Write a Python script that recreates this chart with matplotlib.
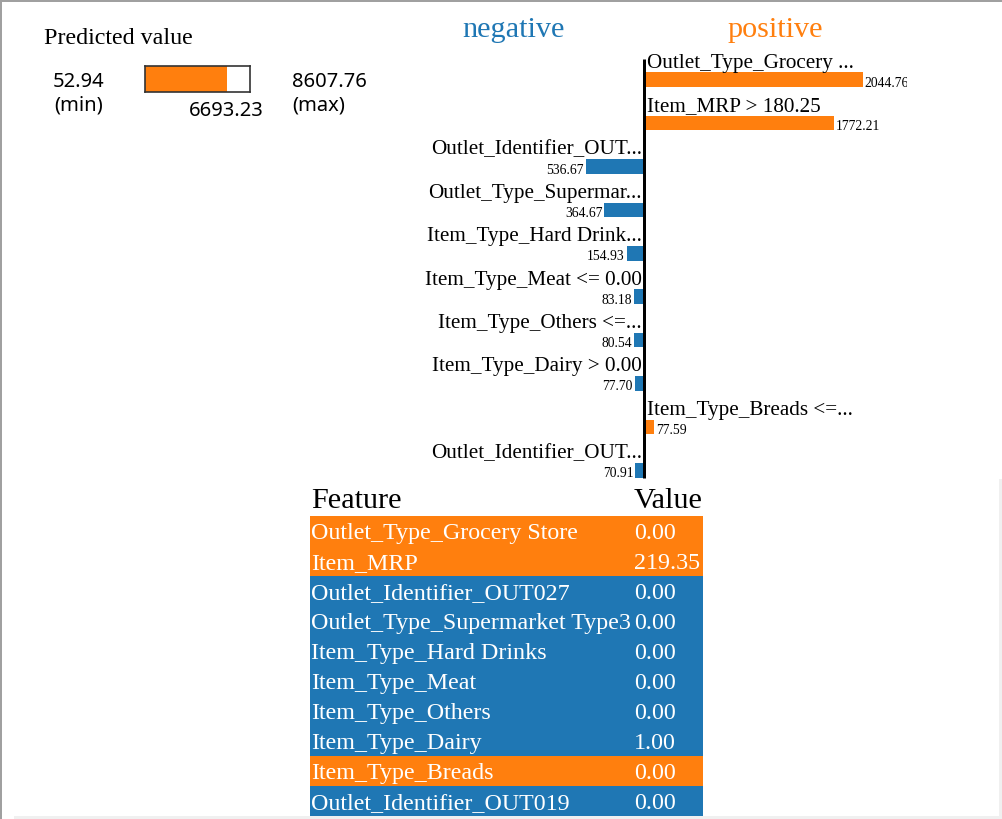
import matplotlib
matplotlib.use("Agg")
import matplotlib.pyplot as plt
from matplotlib.patches import Rectangle

# ---------------- data ----------------
pred_min = 52.94
pred_max = 8607.76
pred_value = 6693.23

bar_labels = [
    "Outlet_Type_Grocery ...",
    "Item_MRP > 180.25",
    "Outlet_Identifier_OUT...",
    "Outlet_Type_Supermar...",
    "Item_Type_Hard Drink...",
    "Item_Type_Meat <= 0.00",
    "Item_Type_Others <=...",
    "Item_Type_Dairy > 0.00",
    "Item_Type_Breads <=...",
    "Outlet_Identifier_OUT...",
]
bar_weights = [2044.76, 1772.21, -536.67, -364.67, -154.93,
               -83.18, -80.54, -77.70, 77.59, -70.91]

table_features = [
    "Outlet_Type_Grocery Store",
    "Item_MRP",
    "Outlet_Identifier_OUT027",
    "Outlet_Type_Supermarket Type3",
    "Item_Type_Hard Drinks",
    "Item_Type_Meat",
    "Item_Type_Others",
    "Item_Type_Dairy",
    "Item_Type_Breads",
    "Outlet_Identifier_OUT019",
]
table_values = ["0.00", "219.35", "0.00", "0.00", "0.00",
                "0.00", "0.00", "1.00", "0.00", "0.00"]
table_positive = [True, True, False, False, False,
                  False, False, False, True, False]

ORANGE = "#ff7f0e"
BLUE = "#1f77b4"
SERIF = ["Liberation Serif", "DejaVu Serif"]
SANS = ["Noto Sans", "DejaVu Sans"]

W, H = 1003, 819
fig = plt.figure(figsize=(W / 100, H / 100), dpi=100)


def px_axes(x0, y0, x1, y1, **kw):
    """axes given in pixel coordinates (origin top-left)"""
    return fig.add_axes([x0 / W, 1 - y1 / H, (x1 - x0) / W, (y1 - y0) / H], **kw)


# ---------- overlay (decor + free text) ----------
ov = px_axes(0, 0, W, H)
ov.set_xlim(0, W)
ov.set_ylim(H, 0)
ov.axis("off")
ov.add_patch(Rectangle((0, 0), W, 2, color="#a0a0a0", lw=0))
ov.add_patch(Rectangle((0, 0), 2, H, color="#a0a0a0", lw=0))
ov.add_patch(Rectangle((14, 816), W - 14, 3, color="#f0f0f0", lw=0))
ov.add_patch(Rectangle((999, 479), 4, H - 479, color="#f0f0f0", lw=0))

ov.text(44, 39, "Predicted value", family=SERIF, fontsize=17.3,
        ha="left", va="center")
NUM = 14.5
ov.text(78.5, 82, f"{pred_min:.2f}", family=SANS, fontsize=NUM, ha="center", va="center")
ov.text(78.5, 106, "(min)", family=SANS, fontsize=NUM, ha="center", va="center")
ov.text(264, 111, f"{pred_value:.2f}", family=SANS, fontsize=NUM, ha="right", va="center")
ov.text(292, 82, f"{pred_max:.2f}", family=SANS, fontsize=NUM, ha="left", va="center")
ov.text(292, 106, "(max)", family=SANS, fontsize=NUM, ha="left", va="center")

ov.text(513, 30, "negative", family=SERIF, fontsize=21.8, color=BLUE,
        ha="center", va="center")
ov.text(775.5, 30, "positive", family=SERIF, fontsize=21.8, color=ORANGE,
        ha="center", va="center")

# ---------- predicted value bar ----------
pa = px_axes(145.5, 66, 250.5, 92)
pa.barh(0, pred_value - pred_min, left=pred_min, height=1, color=ORANGE, lw=0)
pa.set_xlim(pred_min, pred_max)
pa.set_ylim(-0.5, 0.5)
pa.set_xticks([])
pa.set_yticks([])
for s in pa.spines.values():
    s.set_color("#333333")
    s.set_linewidth(1.2)

# ---------- explanation bars ----------
zero_px = 644.5
scale = 0.106          # px per unit
row0, step = 79.7, 43.4
ax_l, ax_r, ax_t, ax_b = 400, 907, 40, 480
ba = px_axes(ax_l, ax_t, ax_r, ax_b)
ba.set_xlim(-(zero_px - ax_l) / scale, (ax_r - zero_px) / scale)
ba.set_ylim((ax_b - row0) / step, -(row0 - ax_t) / step)
ba.axis("off")
px_unit = 1 / scale   # one pixel in data units
gap = 1.5 * px_unit
ys = list(range(len(bar_weights)))
colors = [ORANGE if w > 0 else BLUE for w in bar_weights]
lefts = [gap if w > 0 else w - gap for w in bar_weights]
ba.barh(ys, [abs(w) for w in bar_weights], left=lefts, height=14.5 / step,
        color=colors, lw=0)
ba.plot([0, 0], [-(row0 - 59) / step, (478 - row0) / step], color="black",
        lw=3 * 0.72, solid_capstyle="butt")
LAB = 15.2
VAL = 9.8
for y, (lab, w) in enumerate(zip(bar_labels, bar_weights)):
    ly = y - 16.5 / step
    vy = y + 3.5 / step
    if w > 0:
        ba.text(2.5 * px_unit, ly, lab, family=SERIF, fontsize=LAB,
                ha="left", va="center", clip_on=True)
        ba.text(w + gap + 2 * px_unit, vy, f"{abs(w):.2f}", family=SERIF,
                fontsize=VAL, ha="left", va="center", clip_on=True)
    else:
        ba.text(-2.5 * px_unit, ly, lab, family=SERIF, fontsize=LAB,
                ha="right", va="center", clip_on=True)
        ba.text(w - gap - 2 * px_unit, vy, f"{abs(w):.2f}", family=SERIF,
                fontsize=VAL, ha="right", va="center", clip_on=True)

# ---------- table ----------
ta = px_axes(310, 486, 703, 816)
ta.set_xlim(310, 703)
ta.set_ylim(len(table_features), -1)
ta.axis("off")
rows = list(range(len(table_features)))
ta.barh([r + 0.5 for r in rows], [393] * len(rows), left=310, height=1.0,
        color=[ORANGE if p else BLUE for p in table_positive], lw=0)
ta.text(311, -0.5, "Feature", family=SERIF, fontsize=21.8, ha="left", va="center")
ta.text(634, -0.5, "Value", family=SERIF, fontsize=21.8, ha="left", va="center")
ROW = 17.3
for r, (f, v) in enumerate(zip(table_features, table_values)):
    ta.text(311, r + 0.57, f, family=SERIF, fontsize=ROW, color="white",
            ha="left", va="center")
    ta.text(634, r + 0.57, v, family=SERIF, fontsize=ROW, color="white",
            ha="left", va="center")

fig.savefig("out.png", dpi=100)
